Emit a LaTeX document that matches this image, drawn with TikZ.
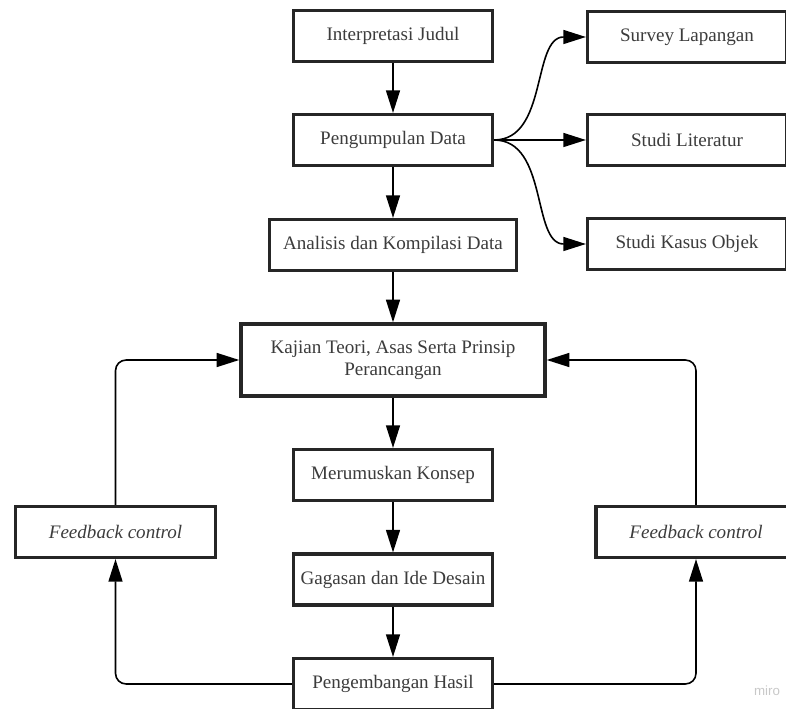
\documentclass[tikz,border=0pt]{standalone}
\usepackage{fontspec}
\setmainfont{Liberation Serif}
\setsansfont{Liberation Sans}
\usetikzlibrary{arrows.meta}
\definecolor{boxline}{HTML}{262626}
\definecolor{boxtext}{HTML}{3C3C3C}
\definecolor{wmark}{HTML}{C8C8C8}
\tikzset{
  box/.style={draw=boxline, line width=2.6pt, fill=white, minimum width=149pt,
    minimum height=38pt, inner sep=0pt, align=center, text=boxtext,
    font=\fontsize{14.3}{16.5}\selectfont},
  fbbox/.style={box, minimum width=150pt, font=\fontsize{14.3}{16.5}\selectfont\itshape},
  flow/.style={line width=1.2pt, -{Triangle[length=17pt,width=10.5pt]}},
}

\begin{document}
\begin{tikzpicture}[x=0.75pt,y=-0.75pt]
\useasboundingbox (0,0) rectangle (786,709);
\clip (0,0) rectangle (786,709);
% alur utama
\node[box] (judul) at (393,36) {Interpretasi Judul};
\node[box] (kumpul) at (393,140) {Pengumpulan Data};
\node[box, minimum width=185pt] (analisis) at (393,245) {Analisis dan Kompilasi Data};
\node[box, minimum width=228pt, minimum height=54pt] (kajian) at (393,360)
  {Kajian Teori, Asas Serta Prinsip\\Perancangan};
\node[box] (konsep) at (393,475) {Merumuskan Konsep};
\node[box] (gagasan) at (393,579.5) {Gagasan dan Ide Desain};
\node[box] (hasil) at (393,684) {Pengembangan Hasil};
% pengumpulan data
\node[box] (survey) at (687,37) {Survey Lapangan};
\node[box] (literatur) at (687,140) {Studi Literatur};
\node[box] (kasus) at (687,244) {Studi Kasus Objek};
% feedback
\node[fbbox] (fbkiri) at (115.5,532) {Feedback control};
\node[fbbox] (fbkanan) at (696,532) {Feedback control};
\node[text=wmark, font=\sffamily\fontsize{10}{10}\selectfont] (miro) at (767,691) {miro};
%
\draw[flow] (judul.south) -- (kumpul.north);
\draw[flow] (kumpul.south) -- (analisis.north);
\draw[flow] (analisis.south) -- (kajian.north);
\draw[flow] (kajian.south) -- (konsep.north);
\draw[flow] (konsep.south) -- (gagasan.north);
\draw[flow] (gagasan.south) -- (hasil.north);
%
\draw[flow] (kumpul.east) to[out=0,in=180] (survey.west);
\draw[flow] (kumpul.east) -- (literatur.west);
\draw[flow] (kumpul.east) to[out=0,in=180] (kasus.west);
%
\draw[flow, rounded corners=8pt] (hasil.west) -| (fbkiri.south);
\draw[flow, rounded corners=8pt] (fbkiri.north) |- (kajian.west);
\draw[flow, rounded corners=8pt] (hasil.east) -| (fbkanan.south);
\draw[flow, rounded corners=8pt] (fbkanan.north) |- (kajian.east);
\end{tikzpicture}
\end{document}
